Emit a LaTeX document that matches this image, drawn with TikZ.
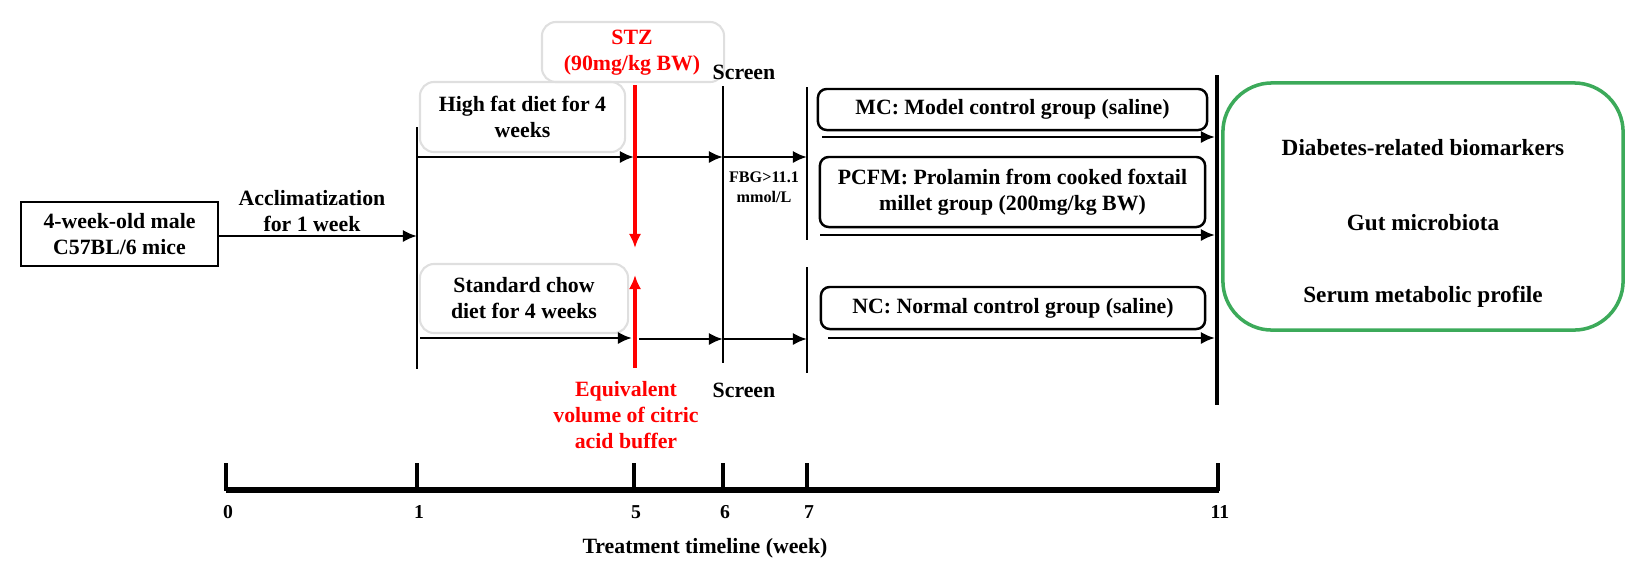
\documentclass[tikz,border=0pt]{standalone}
\usepackage{fontspec}
\setmainfont{Liberation Serif}
\usetikzlibrary{arrows.meta}
\begin{document}
\begin{tikzpicture}[x=0.01cm,y=-0.01cm,
  txt/.style={font=\fontsize{6.2pt}{7.4pt}\selectfont\bfseries,align=center,inner sep=0},
  box/.style={draw,line width=0.7pt,rounded corners=2.5pt,txt},
  faint/.style={draw=gray!25,line width=0.6pt,rounded corners=4pt,txt},
  ln/.style={line width=0.8pt},
  ar/.style={line width=0.8pt,-{Latex[length=4pt,width=3.5pt]}},
  rar/.style={red,line width=0.9pt,-{Latex[length=4pt,width=3.5pt]}},
  tick/.style={font=\fontsize{5.6pt}{6.5pt}\selectfont\bfseries,inner sep=0}]
\useasboundingbox (0,0) rectangle (1648,575);
% start
\node[draw,line width=0.8pt,txt,minimum width=1.97cm,minimum height=0.64cm] (start) at (119.5,234) {4-week-old male\\C57BL/6 mice};
\node[txt] (accl) at (312,211) {Acclimatization\\for 1 week};
% week lines
\coordinate (w1t) at (417,127); \coordinate (w1b) at (417,369);
\draw[ln] (w1t) -- (w1b);
\coordinate (w1a) at (417,236);
\draw[ar] (start.east |- w1a) -- (w1a);
\coordinate (w6t) at (723,86); \coordinate (w6b) at (723,363);
\draw[ln] (w6t) -- (w6b);
\coordinate (w7t) at (807,87); \coordinate (w7m) at (807,240);
\coordinate (w7n) at (807,267); \coordinate (w7b) at (807,373);
\draw[ln] (w7t) -- (w7m); \draw[ln] (w7n) -- (w7b);
\coordinate (w11t) at (1217,75); \coordinate (w11b) at (1217,405);
\draw[line width=1.3pt] (w11t) -- (w11b);
% faint boxes
\node[faint,minimum width=2.05cm,minimum height=0.70cm] (hf) at (522.5,117) {High fat diet for 4\\weeks};
\node[faint,minimum width=2.08cm,minimum height=0.69cm] (sc) at (524,298.5) {Standard chow\\diet for 4 weeks};
\node[faint,minimum width=1.82cm,minimum height=0.60cm] (stzb) at (633,52) {};
\node[txt,red] (stz) at (632,53) {STZ\\(90mg/kg BW)};
\node[txt] (scr1) at (744,72) {Screen};
\node[txt] (scr2) at (744,390) {Screen};
\node[txt,red,anchor=north] (eq) at (626,381) {Equivalent\\volume of citric\\acid buffer};
\node[txt,font=\fontsize{4.6pt}{5.6pt}\selectfont\bfseries] (fbg) at (764,187) {FBG>11.1\\mmol/L};
% HFD arrows
\coordinate (a1) at (417,157); \coordinate (a2) at (634,157); \coordinate (a3) at (723,157); \coordinate (a4) at (807,157);
\draw[ar] (a1) -- (a2); \draw[ar] (a2) -- (a3); \draw[ar] (a3) -- (a4);
\coordinate (b1) at (420,338); \coordinate (b2) at (632,338); \coordinate (b2r) at (639,339); \coordinate (b3) at (723,339); \coordinate (b4) at (807,339);
\draw[ar] (b1) -- (b2); \draw[ar] (b2r) -- (b3); \draw[ar] (b3) -- (b4);
% red arrows
\coordinate (r1) at (635,85); \coordinate (r2) at (635,248);
\coordinate (r3) at (635,368); \coordinate (r4) at (635,275);
\draw[rar] (r1) -- (r2); \draw[rar] (r3) -- (r4);
% groups
\node[box,minimum width=3.89cm,minimum height=0.41cm] (mc) at (1012.5,109.5) {MC: Model control group (saline)};
\node[box,minimum width=3.85cm,minimum height=0.70cm] (pcfm) at (1012.5,192) {PCFM: Prolamin from cooked foxtail\\millet group (200mg/kg BW)};
\node[box,minimum width=3.84cm,minimum height=0.42cm] (nc) at (1013,308) {NC: Normal control group (saline)};
\coordinate (m1) at (822,137); \coordinate (m2) at (1215,137);
\coordinate (p1) at (820,235); \coordinate (p2) at (1215,235);
\coordinate (n1) at (828,338); \coordinate (n2) at (1215,338);
\draw[ar] (m1) -- (m2); \draw[ar] (p1) -- (p2); \draw[ar] (n1) -- (n2);
% outcome
\node[draw={rgb,255:red,60;green,170;blue,90},line width=1pt,rounded corners=14pt,minimum width=4.0cm,minimum height=2.47cm] (out) at (1423,206.5) {};
\node[txt,font=\fontsize{6.6pt}{8pt}\selectfont\bfseries] (o1) at (1423,148) {Diabetes-related biomarkers};
\node[txt,font=\fontsize{6.6pt}{8pt}\selectfont\bfseries] (o2) at (1423,223) {Gut microbiota};
\node[txt,font=\fontsize{6.6pt}{8pt}\selectfont\bfseries] (o3) at (1423,297) {Serum metabolic profile};
% timeline
\coordinate (t0) at (226,490); \coordinate (t11) at (1219,490);
\draw[line width=1.5pt] (t0) -- (t11);
\foreach \x/\l in {226/0,417/1,634/5,723/6,807/7,1218/11}{
  \draw[line width=1pt] (\x,463) -- (\x,491);
  \node[tick] at (\x+2,512) {\l};
}
\node[txt] (tl) at (705,548) {Treatment timeline (week)};
\end{tikzpicture}
\end{document}
